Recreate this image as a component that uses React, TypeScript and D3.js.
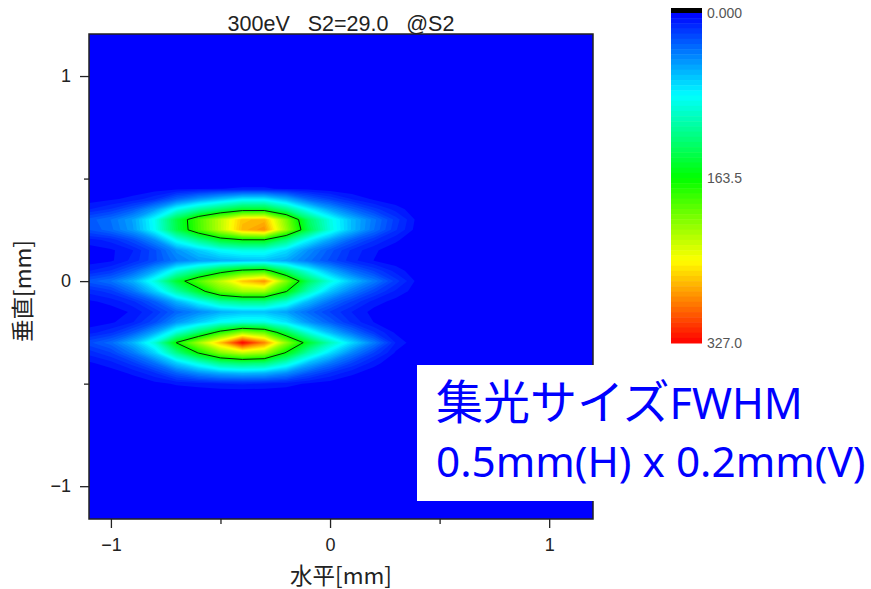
// App.tsx
import React, { useRef, useEffect } from 'react';
import * as d3 from 'd3';

// horizontal positions of the grid columns [mm]
const xGrid = [-1.1, -1.0, -0.9, -0.8, -0.7, -0.6, -0.5, -0.4, -0.3, -0.2, -0.1, 0, 0.1, 0.2, 0.3, 0.4, 0.5, 0.6];
// vertical positions of the grid rows [mm]
const yGrid = [0.55, 0.5, 0.45, 0.4, 0.35, 0.3, 0.25, 0.2, 0.15, 0.1, 0.05, 0, -0.05, -0.1, -0.15, -0.2, -0.25, -0.3, -0.35, -0.4, -0.45, -0.5, -0.55, -0.6];
// intensity, one row per yGrid entry
const intensity = [
    [0, 0, 0, 0, 0, 0, 0, 0, 0, 0, 0, 0, 0, 0, 0, 0, 0, 0],
    [0, 0, 0, 0, 0, 0, 0, 0, 0, 0, 0, 0, 0, 0, 0, 0, 0, 0],
    [0, 0, 1, 2, 3, 4, 5, 6, 6, 4, 3, 1, 0, 0, 0, 0, 0, 0],
    [2, 4, 7, 14, 32, 48, 62, 76, 76, 56, 32, 20, 10, 4, 1, 0, 0, 0],
    [10, 16, 28, 50, 86, 112, 132, 150, 150, 120, 80, 52, 32, 18, 8, 1, 0, 0],
    [28, 36, 52, 86, 142, 186, 224, 264, 268, 204, 132, 90, 60, 38, 18, 3, 0, 0],
    [26, 34, 50, 84, 140, 185, 224, 268, 280, 212, 140, 92, 60, 36, 16, 2, 0, 0],
    [8, 12, 24, 46, 88, 118, 148, 160, 160, 124, 80, 52, 30, 16, 6, 1, 0, 0],
    [2, 4, 10, 24, 48, 66, 82, 90, 90, 72, 46, 28, 14, 6, 2, 0, 0, 0],
    [2, 4, 12, 24, 40, 50, 56, 60, 62, 54, 38, 24, 12, 5, 2, 0, 0, 0],
    [10, 16, 30, 54, 92, 120, 150, 172, 178, 130, 88, 56, 34, 20, 8, 1, 0, 0],
    [28, 36, 56, 92, 148, 190, 225, 262, 280, 205, 135, 92, 62, 40, 18, 3, 0, 0],
    [12, 18, 36, 66, 110, 150, 195, 215, 215, 165, 105, 64, 40, 22, 9, 2, 0, 0],
    [4, 7, 14, 30, 58, 84, 112, 122, 122, 96, 60, 36, 20, 8, 3, 0, 0, 0],
    [1, 2, 6, 16, 32, 44, 56, 62, 62, 52, 34, 20, 10, 3, 1, 0, 0, 0],
    [2, 4, 10, 24, 48, 66, 84, 92, 90, 74, 48, 30, 14, 5, 1, 0, 0, 0],
    [8, 14, 28, 54, 94, 130, 175, 210, 195, 140, 92, 60, 36, 16, 4, 0, 0, 0],
    [24, 34, 58, 95, 165, 215, 265, 327, 285, 210, 150, 105, 70, 40, 10, 0, 0, 0],
    [12, 20, 38, 68, 120, 165, 205, 225, 215, 160, 108, 72, 42, 20, 4, 0, 0, 0],
    [4, 8, 18, 36, 66, 92, 120, 128, 124, 96, 60, 38, 20, 7, 1, 0, 0, 0],
    [1, 2, 6, 14, 30, 44, 54, 58, 56, 44, 26, 14, 6, 2, 0, 0, 0, 0],
    [0, 0, 1, 3, 6, 8, 10, 11, 10, 8, 4, 2, 1, 0, 0, 0, 0, 0],
    [0, 0, 0, 0, 0, 0, 0, 0, 0, 0, 0, 0, 0, 0, 0, 0, 0, 0],
    [0, 0, 0, 0, 0, 0, 0, 0, 0, 0, 0, 0, 0, 0, 0, 0, 0, 0],
];
const maxValue = 327;
const halfMax = 163.5;
const colorSteps = 64;
const rampStops = ['#0000ff', '#00ffff', '#00ff00', '#ffff00', '#ff0000'];
const barLabels = [0, 163.5, 327];
const majorTicks = [-1, 0, 1];
const minorTicks = [-0.5, 0.5];
const chartTitle = '300eV   S2=29.0   @S2';
const xTitle = '水平[mm]';
const yTitle = '垂直[mm]';

const latinFont = '"Liberation Sans", Arial, sans-serif';
const cjkFont = '"Noto Sans CJK JP", sans-serif';

const App = () => {
    const chartRef = useRef<SVGSVGElement>(null);
    const width = 871;
    const height = 589;

    useEffect(() => {
        const svg = d3.select(chartRef.current);
        svg.selectAll('*').remove();

        const plot = { left: 89, right: 593, top: 34, bottom: 519 };
        const xScale = d3.scaleLinear().domain([-1.1, 1.2]).range([plot.left, plot.right]);
        const yScale = d3.scaleLinear().domain([1.205, -1.16]).range([plot.top, plot.bottom]);
        const colorScale = d3
            .scaleLinear<string>()
            .domain(rampStops.map((_, i) => (i / (rampStops.length - 1)) * maxValue))
            .range(rampStops);

        // grid index -> plot coordinates
        const columnToX = d3.scaleLinear().domain([0, xGrid.length - 1]).range([xScale(xGrid[0]), xScale(xGrid[xGrid.length - 1])]);
        const rowToY = d3.scaleLinear().domain([0, yGrid.length - 1]).range([yScale(yGrid[0]), yScale(yGrid[yGrid.length - 1])]);
        const gridPath = d3.geoPath(
            d3.geoTransform({
                point(x, y) {
                    this.stream.point(columnToX(x - 0.5), rowToY(y - 0.5));
                },
            })
        );
        const contours = d3.contours().size([xGrid.length, yGrid.length]);
        const flat = intensity.flat();

        svg.append('clipPath').attr('id', 'plot-clip').append('rect')
            .attr('x', plot.left).attr('y', plot.top)
            .attr('width', plot.right - plot.left).attr('height', plot.bottom - plot.top);

        const field = svg.append('g').attr('clip-path', 'url(#plot-clip)');
        field.append('rect')
            .attr('x', plot.left).attr('y', plot.top)
            .attr('width', plot.right - plot.left).attr('height', plot.bottom - plot.top)
            .attr('fill', colorScale(0));

        // Filled bands
        d3.range(1, colorSteps).forEach((i) => {
            const level = (i / colorSteps) * maxValue;
            field.append('path')
                .attr('d', gridPath(contours.contour(flat, level)))
                .attr('fill', colorScale(((i + 0.5) / colorSteps) * maxValue));
        });

        // FWHM line
        field.append('path')
            .attr('d', gridPath(contours.contour(flat, halfMax)))
            .attr('fill', 'none')
            .attr('stroke', '#0a2a0a')
            .attr('stroke-width', 1);

        // Frame
        svg.append('rect')
            .attr('x', plot.left).attr('y', plot.top)
            .attr('width', plot.right - plot.left).attr('height', plot.bottom - plot.top)
            .attr('fill', 'none').attr('stroke', '#222').attr('stroke-width', 1.5);

        // Axes
        const minus = (d: d3.NumberValue) => String(d).replace('-', '−');
        const styleAxis = (g: any) => {
            g.select('.domain').remove();
            g.selectAll('line').attr('stroke', '#222').attr('stroke-width', 1.3);
            g.selectAll('text').attr('fill', '#222').style('font-family', latinFont).style('font-size', '18px');
        };
        svg.append('g').attr('transform', `translate(0,${plot.bottom})`)
            .call(d3.axisBottom(xScale).tickValues(majorTicks).tickSize(9).tickPadding(10).tickFormat(minus)).call(styleAxis);
        svg.append('g').attr('transform', `translate(0,${plot.bottom})`)
            .call(d3.axisBottom(xScale).tickValues(minorTicks).tickSize(5).tickFormat(() => '')).call(styleAxis);
        svg.append('g').attr('transform', `translate(${plot.left},0)`)
            .call(d3.axisLeft(yScale).tickValues(majorTicks).tickSize(9).tickPadding(9).tickFormat(minus)).call(styleAxis);
        svg.append('g').attr('transform', `translate(${plot.left},0)`)
            .call(d3.axisLeft(yScale).tickValues(minorTicks).tickSize(5).tickFormat(() => '')).call(styleAxis);

        // Titles
        svg.append('text').attr('x', 341).attr('y', 31).attr('text-anchor', 'middle')
            .style('font-family', latinFont).style('font-size', '21.5px').style('white-space', 'pre').attr('fill', '#222')
            .text(chartTitle);
        svg.append('text').attr('x', 341).attr('y', 584).attr('text-anchor', 'middle')
            .style('font-family', cjkFont).style('font-size', '22.5px').attr('fill', '#222')
            .text(xTitle);
        svg.append('text').attr('transform', 'translate(31,291) rotate(-90)').attr('text-anchor', 'middle')
            .style('font-family', cjkFont).style('font-size', '22.5px').attr('fill', '#222')
            .text(yTitle);

        // Colour bar
        const bar = { left: 671, right: 702, top: 13, bottom: 343 };
        const barScale = d3.scaleLinear().domain([0, maxValue]).range([bar.top, bar.bottom]);
        svg.append('rect').attr('x', bar.left).attr('y', 8).attr('width', bar.right - bar.left).attr('height', bar.top - 8).attr('fill', '#000');
        d3.range(colorSteps).forEach((i) => {
            const y0 = barScale((i / colorSteps) * maxValue);
            const y1 = barScale(((i + 1) / colorSteps) * maxValue);
            svg.append('rect').attr('x', bar.left).attr('y', y0).attr('width', bar.right - bar.left).attr('height', y1 - y0 + 0.5)
                .attr('fill', colorScale(((i + 0.5) / colorSteps) * maxValue));
        });
        barLabels.forEach((v) => {
            svg.append('text').attr('x', 707).attr('y', barScale(v) + 5)
                .style('font-family', latinFont).style('font-size', '14px').attr('fill', '#555')
                .text(v === 0 ? v.toFixed(3) : v.toFixed(1));
        });

        // Annotation box
        svg.append('rect').attr('x', 417).attr('y', 365).attr('width', 454).attr('height', 136).attr('fill', '#fff');
        const line1 = svg.append('text').attr('x', 436).attr('y', 419).attr('fill', '#0000ff').style('font-family', cjkFont);
        line1.append('tspan').style('font-size', '47px').text('集光サイズ');
        line1.append('tspan').style('font-family', '"Noto Sans", sans-serif').style('font-size', '43px').text('FWHM');
        svg.append('text').attr('x', 436).attr('y', 477).attr('fill', '#0000ff')
            .style('font-family', '"Noto Sans", sans-serif').style('font-size', '42.3px')
            .text('0.5mm(H) x 0.2mm(V)');
    }, []);

    return <svg ref={chartRef} width={width} height={height} style={{ position: 'absolute', left: 0, top: 0 }} />;
};

export default App;
